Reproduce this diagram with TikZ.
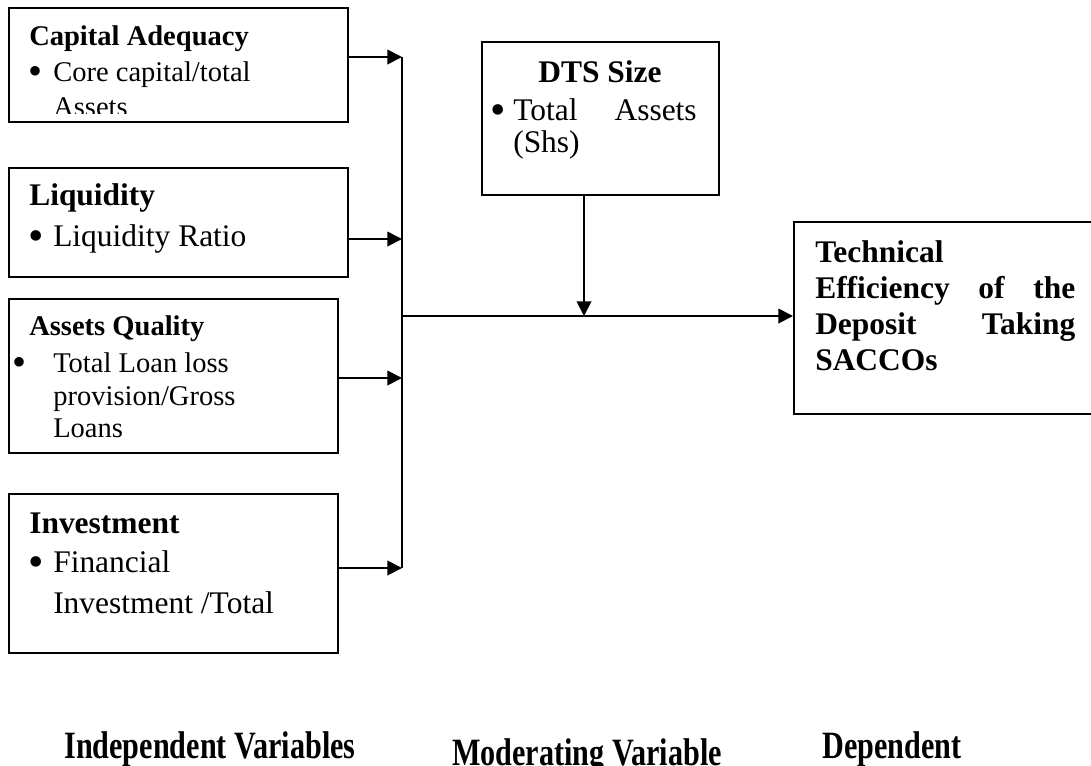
\documentclass[tikz,border=0pt]{standalone}
\usepackage{graphicx}
\usepackage{fontspec}
\setmainfont{Liberation Serif}
\usetikzlibrary{arrows.meta}

% text sizes used in the boxes
\newcommand\smallbox{\fontsize{21.4}{24}\selectfont}
\newcommand\largebox{\fontsize{23.6}{27}\selectfont}
\newcommand\bigdot{\raisebox{-0.13em}{\scalebox{1.4}{\textbullet}}}
\newcommand\footlabel[1]{\scalebox{0.78}[1]{\fontsize{29}{32}\selectfont\bfseries #1}}

\begin{document}
\begin{tikzpicture}[x=0.75pt,y=-0.75pt,
  box/.style={draw, line width=1.4pt, inner sep=0pt, anchor=north west, rectangle},
  txt/.style={anchor=base west, inner sep=0pt},
  wire/.style={line width=1.4pt},
  arr/.style={line width=1.4pt, -{Triangle[length=11pt,width=11pt]}}]

\useasboundingbox (0,0) rectangle (1091,765);

% ---- boxes ----
\node[box, minimum width=254.25pt, minimum height=85.5pt]  (cap)  at (8,7)    {};
\node[box, minimum width=254.25pt, minimum height=81.75pt] (liq)  at (8,167)  {};
\node[box, minimum width=246.75pt, minimum height=115.5pt] (aq)   at (8,298)  {};
\node[box, minimum width=246.75pt, minimum height=119.25pt](inv)  at (8,493)  {};
\node[box, minimum width=177.75pt, minimum height=114.75pt](dts)  at (481,41) {};
\node[box, minimum width=237.75pt, minimum height=144pt]   (tech) at (793,221){};

% ---- Capital Adequacy ----
\node[txt] (capH) at (29,45) {\smallbox\bfseries Capital Adequacy};
\node[txt] (capB) at (28,81) {\smallbox\bigdot};
\node[txt] (capT) at (53,81) {\smallbox Core capital/total};
\begin{scope}
  \clip (8,7) rectangle (347,113);
  \node[txt] (capT2) at (53,116) {\smallbox Assets};
\end{scope}

% ---- Liquidity ----
\node[txt] (liqH) at (29,205) {\largebox\bfseries Liquidity};
\node[txt] (liqB) at (28,246) {\largebox\bigdot};
\node[txt] (liqT) at (53,246) {\largebox Liquidity Ratio};

% ---- Assets Quality ----
\node[txt] (aqH)  at (29,335) {\smallbox\bfseries Assets Quality};
\node[txt] (aqB)  at (12,372) {\smallbox\bigdot};
\node[txt] (aqT1) at (53,372) {\smallbox Total Loan loss};
\node[txt] (aqT2) at (53,405) {\smallbox provision/Gross};
\node[txt] (aqT3) at (53,437) {\smallbox Loans};

% ---- Investment ----
\node[txt] (invH)  at (29,533) {\largebox\bfseries Investment};
\node[txt] (invB)  at (28,572) {\largebox\bigdot};
\node[txt] (invT1) at (53,572) {\largebox Financial};
\node[txt] (invT2) at (53,613) {\largebox Investment /Total};

% ---- DTS Size ----
\node[anchor=base, inner sep=0pt] (dtsH) at (600,82) {\largebox\bfseries DTS Size};
\node[txt] (dtsB)  at (490,120) {\largebox\bigdot};
\node[txt] (dtsT1) at (513,120) {\largebox Total};
\node[anchor=base east, inner sep=0pt] (dtsT2) at (697,120) {\largebox Assets};
\node[txt] (dtsT3) at (513,152) {\largebox (Shs)};

% ---- Technical Efficiency ----
\node[txt] (teT1) at (815,262) {\largebox\bfseries Technical};
\node[txt] (teT2) at (815,298) {\largebox\bfseries\makebox[195pt][s]{Efficiency\hfill of\hfill the}};
\node[txt] (teT3) at (815,334) {\largebox\bfseries\makebox[195pt][s]{Deposit\hfill Taking}};
\node[txt] (teT4) at (815,370) {\largebox\bfseries SACCOs};

% ---- connectors ----
\coordinate (j1) at (402,57);
\coordinate (j2) at (402,239);
\coordinate (j3) at (402,378);
\coordinate (j4) at (402,568);
\coordinate (jm) at (402,316);
\coordinate (mid) at (584,316);

\draw[wire] (j1) -- (j4);
\draw[arr] (cap.east |- j1) -- (j1);
\draw[arr] (liq.east |- j2) -- (j2);
\draw[arr] (aq.east |- j3) -- (j3);
\draw[arr] (inv.east |- j4) -- (j4);
\draw[arr] (jm) -- (tech.west |- jm);
\draw[arr] (dts.south -| mid) -- (mid);

% ---- column captions ----
\node[txt] (capIndep) at (64,758)  {\footlabel{Independent Variables}};
\node[txt] (capMod)   at (452,765) {\footlabel{Moderating Variable}};
\node[txt] (capDep)   at (822,758) {\footlabel{Dependent}};
\end{tikzpicture}
\end{document}
